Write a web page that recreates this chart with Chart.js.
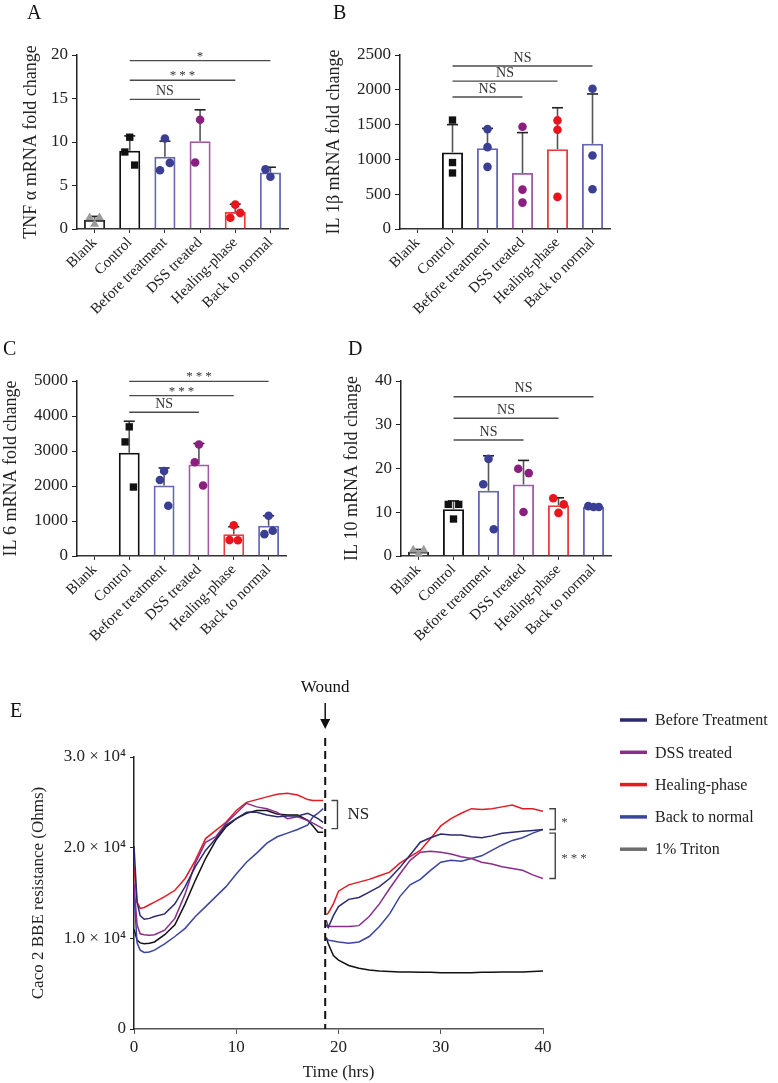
<!DOCTYPE html>
<html>
<head>
<meta charset="utf-8">
<script src="https://cdn.jsdelivr.net/npm/chart.js@4"></script>
<style>
  body { margin: 0; background: #fff; }
  #wrap { position: relative; width: 778px; height: 1083px; font-family: "Liberation Serif", serif; color: #111; }
  canvas { position: absolute; }
  .panel { position: absolute; font-size: 20px; line-height: 20px; }
</style>
</head>
<body>
<div id="wrap">
  <canvas id="tnf" width="390" height="350" style="left:0;top:0"></canvas>
  <canvas id="il1b" width="400" height="350" style="left:310px;top:0"></canvas>
  <canvas id="il6" width="390" height="400" style="left:0;top:280px"></canvas>
  <canvas id="il10" width="400" height="400" style="left:310px;top:280px"></canvas>
  <canvas id="teer" width="778" height="443" style="left:0;top:640px"></canvas>
  <div class="panel" style="left:27px;top:2px">A</div>
  <div class="panel" style="left:333px;top:2px">B</div>
  <div class="panel" style="left:3px;top:338px">C</div>
  <div class="panel" style="left:348px;top:338px">D</div>
  <div class="panel" style="left:10px;top:700px">E</div>
</div>
<script>
Chart.defaults.font.family = '"Liberation Serif", serif';
Chart.defaults.color = '#222';

const groups = ['Blank', 'Control', 'Before treatment', 'DSS treated', 'Healing-phase', 'Back to normal'];

// A: TNF alpha
const tnfMean = [1.05, 9.0, 8.3, 10.1, 1.95, 6.5];
const tnfSd = [0.4, 1.7, 1.8, 3.6, 0.9, 0.6];
const tnfPoints = [[0.55, 1.3, 1.3], [10.55, 8.85, 7.35], [10.4, 6.75, 7.6], [12.55, 7.65], [2.8, 1.3, 1.85], [6.0, 6.85]];
const tnfSig = [{ from: 1, to: 5, y: 19.35, text: '*' }, { from: 1, to: 4, y: 17.1, text: '***' }, { from: 1, to: 3, y: 14.9, text: 'NS' }];

// B: IL 1beta
const il1bMean = [null, 1100, 1160, 805, 1147, 1225];
const il1bSd = [null, 400, 285, 580, 595, 715];
const il1bPoints = [[], [1565, 955, 805], [1435, 1176, 893], [1469, 566, 379], [1560, 1426, 461], [2016, 1056, 571]];
const il1bSig = [{ from: 1, to: 5, y: 2341, text: 'NS' }, { from: 1, to: 4, y: 2125, text: 'NS' }, { from: 1, to: 3, y: 1896, text: 'NS' }];

// C: IL 6
const il6Mean = [null, 2950, 2015, 2615, 620, 865];
const il6Sd = [null, 900, 500, 600, 215, 285];
const il6Points = [[], [3690, 3260, 1970], [2430, 2170, 1435], [3185, 2680, 2015], [880, 455, 450], [1150, 625, 720]];
const il6Sig = [{ from: 1, to: 5, y: 4990, text: '***' }, { from: 1, to: 4, y: 4583, text: '***' }, { from: 1, to: 3, y: 4107, text: 'NS' }];

// D: IL 10
const il10Mean = [1.0, 10.7, 14.9, 16.35, 11.6, 11.2];
const il10Sd = [0.5, 1.9, 8.0, 5.5, 1.7, 0.25];
const il10Points = [[0.4, 1.37, 1.37], [8.45, 11.8, 11.8], [22.2, 16.4, 6.1], [10.05, 19.95, 18.95], [9.85, 13.2, 11.8], [11.2, 11.4, 11.2]];
const il10Sig = [{ from: 1, to: 5, y: 36.4, text: 'NS' }, { from: 1, to: 4, y: 31.5, text: 'NS' }, { from: 1, to: 3, y: 26.5, text: 'NS' }];

// E: resistance over time, before and after the wound
const phase1Hours = [0, 0.3, 0.6, 1, 1.5, 2, 3, 4, 5, 6, 7, 8, 9, 10, 11, 12, 13, 14, 15, 16, 17, 17.5, 18, 18.5];
const phase2Hours = [18.8, 19, 19.5, 20, 21, 22, 23, 24, 25, 26, 27, 28, 29, 30, 31, 32, 33, 34, 35, 36, 37, 38, 39, 40];
const before1 = [20200, 14000, 12500, 12100, 12200, 12400, 12700, 13800, 15700, 17900, 19700, 21000, 22500, 23200, 23900, 23900, 23600, 23400, 23500, 23500, 23800, 23500, 23200, 22800];
const before2 = [11500, 11200, 12500, 13500, 14300, 14500, 15100, 15700, 16600, 17800, 19200, 20600, 21100, 21500, 21400, 21400, 21200, 21100, 21300, 21600, 21700, 21800, 21900, 22000];
const dss1 = [16000, 11500, 10500, 10400, 10350, 10400, 10900, 12200, 14900, 18300, 20600, 21200, 22700, 23800, 24900, 24500, 24300, 23900, 23200, 23400, 23000, 22700, 22400, 22100];
const dss2 = [12000, 11300, 11300, 11300, 11300, 11400, 12400, 13800, 15500, 17100, 18600, 19500, 19600, 19500, 19300, 19000, 18800, 18400, 18200, 17900, 17700, 17500, 17000, 16600];
const healing1 = [18000, 14000, 13300, 13400, 13700, 14000, 14600, 15300, 16600, 18600, 21000, 21900, 22800, 24100, 25000, 25300, 25600, 25900, 26000, 25800, 25300, 25200, 25200, 25200];
const healing2 = [12600, 12800, 13800, 15200, 15900, 16200, 16500, 16900, 17300, 18300, 19000, 19700, 21000, 22400, 23200, 23800, 24300, 24200, 24300, 24500, 24700, 24300, 24300, 24000];
const back1 = [15000, 9500, 8700, 8450, 8500, 8700, 9400, 10200, 11100, 12400, 13500, 14600, 15700, 17100, 18400, 19400, 20500, 21200, 21600, 22000, 22500, 23400, 23800, 24300];
const back2 = [10000, 9800, 9700, 9600, 9450, 9600, 10200, 11300, 12700, 14600, 15900, 16500, 17500, 18400, 18600, 18500, 18800, 19100, 19700, 20300, 20800, 21100, 21600, 22000];
const triton1 = [11000, 9800, 9500, 9400, 9450, 9600, 10400, 11500, 13800, 16400, 18800, 20800, 22300, 23200, 23800, 24100, 24100, 23700, 23600, 23600, 23000, 22400, 21700, 21700];
const triton2 = [10100, 9400, 8100, 7600, 7000, 6700, 6500, 6400, 6350, 6300, 6300, 6250, 6250, 6200, 6200, 6200, 6200, 6250, 6250, 6300, 6300, 6300, 6350, 6400];
const woundHour = 18.7;

const last = (arr) => arr[arr.length - 1];

const groupColors = ['#9b9b9b', '#111111', '#3a3f95', '#8a1f80', '#e8151d', '#3a3f95'];
const barBorders = ['#222222', '#111111', '#6468b4', '#a25aa6', '#ea3c3c', '#6468b4'];
const markerStyles = ['triangle', 'rect', 'circle', 'circle', 'circle', 'circle'];

// error bar (mean + SD) drawn right after the bars, under the dots
function errorBarPlugin(sd) {
  return {
    id: 'errorBars',
    afterDatasetDraw(chart, args) {
      if (args.index !== 0) return;
      const { ctx } = chart;
      const y = chart.scales.y;
      const mean = chart.data.datasets[0].data;
      args.meta.data.forEach((bar, i) => {
        if (mean[i] == null || sd[i] == null) return;
        const top = y.getPixelForValue(mean[i] + sd[i]);
        ctx.save();
        ctx.lineWidth = 1.6;
        ctx.strokeStyle = '#555';
        ctx.beginPath(); ctx.moveTo(bar.x, bar.y); ctx.lineTo(bar.x, top); ctx.stroke();
        ctx.strokeStyle = '#222';
        ctx.beginPath(); ctx.moveTo(bar.x - 5.5, top); ctx.lineTo(bar.x + 5.5, top); ctx.stroke();
        ctx.restore();
      });
    }
  };
}

function sigPlugin(sig) {
  return {
    id: 'sig',
    afterDraw(chart) {
      const { ctx, scales: { x, y } } = chart;
      ctx.save();
      sig.forEach((s) => {
        const py = y.getPixelForValue(s.y);
        const x0 = x.getPixelForValue(s.from);
        const x1 = x.getPixelForValue(s.to);
        ctx.strokeStyle = '#4a4a4a';
        ctx.lineWidth = 1.4;
        ctx.beginPath(); ctx.moveTo(x0, py); ctx.lineTo(x1, py); ctx.stroke();
        ctx.fillStyle = '#333';
        ctx.textAlign = 'center';
        ctx.textBaseline = 'bottom';
        if (s.text === 'NS') {
          ctx.font = '14px "Liberation Serif"';
          ctx.fillText(s.text, (x0 + x1) / 2, py - 1);
        } else {
          ctx.font = '13px "Liberation Serif"';
          ctx.letterSpacing = '3px';
          ctx.fillText(s.text, (x0 + x1) / 2 + 1.5, py + 2);
          ctx.letterSpacing = '0px';
        }
      });
      ctx.restore();
    }
  };
}

function barPanel(id, yTitle, mean, sd, points, sig, yMax, yStep, box) {
  const jit = [0, -box.spread, box.spread];
  const pts = [], pStyle = [], pColor = [], pRad = [];
  points.forEach((vals, g) => vals.forEach((v, k) => {
    pts.push({ x: g + jit[k], y: v });
    pStyle.push(markerStyles[g]);
    pColor.push(groupColors[g]);
    pRad.push(markerStyles[g] === 'circle' ? 4.3 : 5.2);
  }));

  new Chart(document.getElementById(id), {
    type: 'bar',
    data: {
      labels: groups,
      datasets: [
        {
          data: mean,
          backgroundColor: 'rgba(255,255,255,0)',
          borderColor: barBorders,
          borderWidth: 1.8,
          barPercentage: 0.6,
          categoryPercentage: 1,
          grouped: false,
          order: 2
        },
        {
          type: 'scatter',
          xAxisID: 'xs',
          data: pts,
          pointStyle: pStyle,
          pointBackgroundColor: pColor,
          pointBorderColor: pColor,
          pointBorderWidth: 0,
          pointRadius: pRad,
          clip: false,
          order: 1
        }
      ]
    },
    options: {
      responsive: false,
      animation: false,
      events: [],
      layout: { padding: { top: box.top, right: box.right, left: 0, bottom: 0 } },
      plugins: { legend: { display: false }, tooltip: { enabled: false } },
      scales: {
        x: {
          afterFit: (s) => { s.height = box.xHeight; },
          grid: { offset: false, drawOnChartArea: false, tickLength: 4, color: '#333' },
          border: { color: '#333', width: 1.5 },
          ticks: { font: { size: 15 }, color: '#222', minRotation: 45, maxRotation: 45, autoSkip: false, padding: 1 }
        },
        xs: { type: 'linear', display: false, offset: false, grid: { offset: false }, min: -0.5, max: 5.5 },
        y: {
          min: 0,
          max: yMax,
          afterFit: (s) => { s.width = box.yWidth; },
          grid: { drawOnChartArea: false, tickLength: 5, color: '#222' },
          border: { color: '#222', width: 1.5 },
          ticks: { stepSize: yStep, font: { size: 17 }, color: '#222', padding: 4, callback: (v) => String(v) },
          title: { display: true, text: yTitle, font: { size: 18 }, color: '#222', padding: { top: box.titlePad, bottom: 0 } }
        }
      }
    },
    plugins: [errorBarPlugin(sd), sigPlugin(sig)]
  });
}

barPanel('tnf', 'TNF α mRNA fold change', tnfMean, tnfSd, tnfPoints, tnfSig, 20, 5,
  { top: 55, right: 102, xHeight: 121, yWidth: 77, titlePad: 20, spread: 0.14 });
barPanel('il1b', 'IL 1β mRNA fold change', il1bMean, il1bSd, il1bPoints, il1bSig, 2500, 500,
  { top: 55, right: 100, xHeight: 121, yWidth: 90, titlePad: 13, spread: 0 });
barPanel('il6', 'IL 6 mRNA fold change', il6Mean, il6Sd, il6Points, il6Sig, 5000, 1000,
  { top: 101, right: 104, xHeight: 124, yWidth: 77, titlePad: 0, spread: 0.12 });
barPanel('il10', 'IL 10 mRNA fold change', il10Mean, il10Sd, il10Points, il10Sig, 40, 10,
  { top: 101, right: 99, xHeight: 124, yWidth: 91, titlePad: 31, spread: 0.15 });

// ----- panel E -----
const eSeries = [
  { label: 'Before Treatment', color: '#2b2a6e', a: before1, b: before2 },
  { label: 'DSS treated', color: '#8a2c8c', a: dss1, b: dss2 },
  { label: 'Healing-phase', color: '#e31b23', a: healing1, b: healing2 },
  { label: 'Back to normal', color: '#3a44a2', a: back1, b: back2 },
  { label: '1% Triton', color: '#111111', legendColor: '#6d6d6d', a: triton1, b: triton2 }
];

const brackets = [
  { hour: 19.9, hi: last(healing1), lo: last(dss1), text: 'NS', gap: 10 },
  { hour: 41.2, hi: last(healing2) + 300, lo: last(before2), text: '*', gap: 6 },
  { hour: 41.2, hi: last(before2) - 400, lo: last(dss2), text: '***', gap: 6 }
];

const teerPlugin = {
  id: 'teer',
  afterDraw(chart) {
    const { ctx, chartArea, scales: { x, y } } = chart;
    const wx = x.getPixelForValue(woundHour);
    ctx.save();
    // wound marker
    ctx.strokeStyle = '#111';
    ctx.lineWidth = 2;
    ctx.setLineDash([8, 5]);
    ctx.beginPath(); ctx.moveTo(wx, chartArea.top - 19); ctx.lineTo(wx, chartArea.bottom); ctx.stroke();
    ctx.setLineDash([]);
    ctx.lineWidth = 1.5;
    ctx.beginPath(); ctx.moveTo(wx, chartArea.top - 54); ctx.lineTo(wx, chartArea.top - 36); ctx.stroke();
    ctx.fillStyle = '#111';
    ctx.beginPath();
    ctx.moveTo(wx - 5, chartArea.top - 38); ctx.lineTo(wx + 5, chartArea.top - 38); ctx.lineTo(wx, chartArea.top - 28);
    ctx.closePath(); ctx.fill();
    ctx.font = '17px "Liberation Serif"';
    ctx.textAlign = 'center';
    ctx.textBaseline = 'middle';
    ctx.fillText('Wound', wx, chartArea.top - 69);

    // significance brackets
    ctx.strokeStyle = '#444';
    ctx.lineWidth = 1.4;
    brackets.forEach((b) => {
      const bx = x.getPixelForValue(b.hour);
      const y0 = y.getPixelForValue(b.hi);
      const y1 = y.getPixelForValue(b.lo);
      ctx.beginPath();
      ctx.moveTo(bx - 6, y0); ctx.lineTo(bx, y0); ctx.lineTo(bx, y1); ctx.lineTo(bx - 6, y1);
      ctx.stroke();
      ctx.textAlign = 'left';
      if (b.text === 'NS') {
        ctx.font = '17px "Liberation Serif"';
        ctx.fillStyle = '#222';
        ctx.fillText(b.text, bx + b.gap, (y0 + y1) / 2);
      } else {
        ctx.font = '13px "Liberation Serif"';
        ctx.fillStyle = '#444';
        ctx.letterSpacing = '3px';
        ctx.fillText(b.text, bx + b.gap, (y0 + y1) / 2 + 3);
        ctx.letterSpacing = '0px';
      }
    });

    // legend
    ctx.font = '16px "Liberation Serif"';
    ctx.textAlign = 'left';
    ctx.fillStyle = '#222';
    chart.data.datasets.forEach((ds, i) => {
      const ly = 80 + i * 32.3;
      ctx.strokeStyle = ds.legendColor || ds.borderColor;
      ctx.lineWidth = 3.5;
      ctx.beginPath(); ctx.moveTo(620, ly); ctx.lineTo(647, ly); ctx.stroke();
      ctx.fillText(ds.label, 655, ly + 1);
    });
    ctx.restore();
  }
};

new Chart(document.getElementById('teer'), {
  type: 'line',
  data: {
    datasets: eSeries.map((s) => ({
      label: s.label,
      borderColor: s.color,
      legendColor: s.legendColor,
      borderWidth: 1.5,
      pointRadius: 0,
      tension: 0,
      spanGaps: false,
      data: [
        ...phase1Hours.map((h, i) => ({ x: h, y: s.a[i] })),
        { x: woundHour, y: null },
        ...phase2Hours.map((h, i) => ({ x: h, y: s.b[i] }))
      ]
    }))
  },
  options: {
    responsive: false,
    animation: false,
    events: [],
    layout: { padding: { top: 117, right: 235, left: 0, bottom: 0 } },
    plugins: { legend: { display: false }, tooltip: { enabled: false } },
    scales: {
      x: {
        type: 'linear',
        min: 0,
        max: 40,
        afterFit: (s) => { s.height = 54; },
        grid: { drawOnChartArea: false, tickLength: 5, color: '#555' },
        border: { color: '#555', width: 1.5 },
        ticks: { stepSize: 10, font: { size: 17 }, color: '#222', padding: 3 },
        title: { display: true, text: 'Time (hrs)', font: { size: 17 }, color: '#222', padding: { top: 0, bottom: 0 } }
      },
      y: {
        min: 0,
        max: 30000,
        afterFit: (s) => { s.width = 134; },
        grid: { drawOnChartArea: false, tickLength: 4, color: '#222' },
        border: { color: '#222', width: 1.5 },
        ticks: {
          stepSize: 10000,
          font: { size: 17 },
          color: '#222',
          padding: 4,
          callback: (v) => (v === 0 ? '0' : (v / 10000).toFixed(1) + ' × 10⁴')
        },
        title: { display: true, text: 'Caco 2 BBE resistance (Ohms)', font: { size: 17 }, color: '#222', padding: { top: 28, bottom: 0 } }
      }
    }
  },
  plugins: [teerPlugin]
});
</script>
</body>
</html>
